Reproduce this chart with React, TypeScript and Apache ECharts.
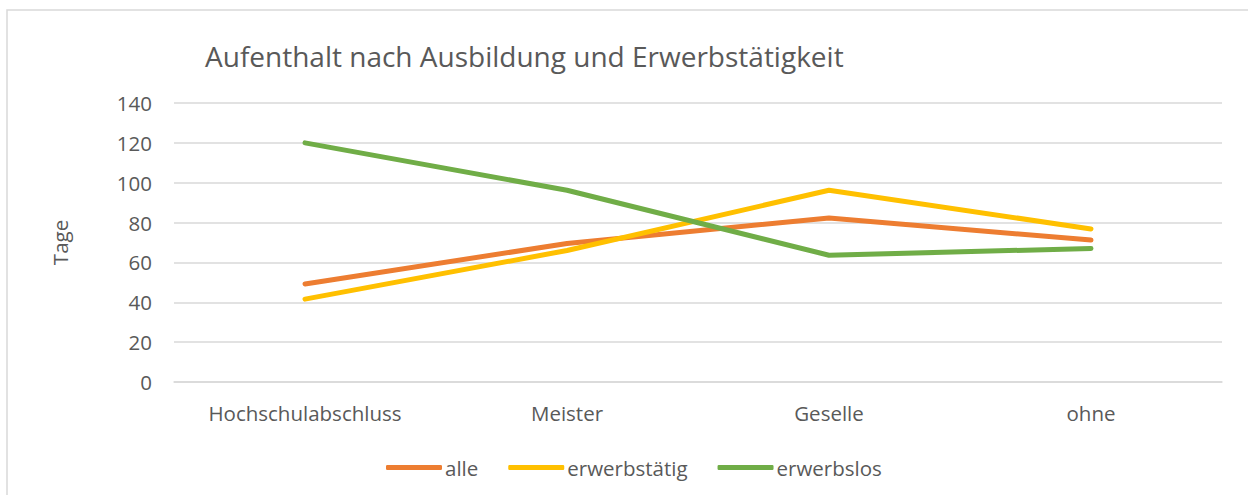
import React, { useEffect, useRef } from "react";
import * as echarts from "echarts";

const categories = ["Hochschulabschluss", "Meister", "Geselle", "ohne"];
const alle = [49.2, 69.5, 82.3, 71.2];
const erwerbstaetig = [41.6, 66.0, 96.2, 76.8];
const erwerbslos = [120, 96.2, 63.6, 67.0];
const seriesNames = ["alle", "erwerbstätig", "erwerbslos"];
const colors = ["#ED7D31", "#FFC000", "#70AD47"];

export default function App() {
  const ref = useRef<HTMLDivElement>(null);
  useEffect(() => {
    const chart = echarts.init(ref.current!, null, { renderer: "svg" });
    const font = "'Open Sans', sans-serif";
    const data = [alle, erwerbstaetig, erwerbslos];
    chart.setOption({
      animation: false,
      backgroundColor: "#ffffff",
      textStyle: { fontFamily: font },
      graphic: [
        {
          type: "rect",
          shape: { x: 7, y: 10, width: 1260, height: 500 },
          style: { fill: "none", stroke: "#d9d9d9", lineWidth: 1.5 },
          silent: true,
        },
      ],
      title: {
        text: "Aufenthalt nach Ausbildung und Erwerbstätigkeit",
        left: 200,
        top: 37,
        textStyle: { fontFamily: font, fontSize: 28, fontWeight: "normal", color: "#595959" },
      },
      legend: {
        bottom: 12,
        left: 381,
        itemWidth: 56,
        itemHeight: 5,
        itemGap: 30,
        icon: "roundRect",
        textStyle: { fontFamily: font, fontSize: 20.5, color: "#595959", padding: [0, 0, 0, -2] },
        data: seriesNames,
      },
      grid: { left: 174, right: 26, top: 103, bottom: 113, containLabel: false },
      xAxis: {
        type: "category",
        data: categories,
        boundaryGap: true,
        axisLine: { show: true, lineStyle: { color: "#d9d9d9", width: 1.5 } },
        axisTick: { show: false },
        axisLabel: { fontFamily: font, fontSize: 20.5, color: "#595959", margin: 20 },
      },
      yAxis: {
        type: "value",
        min: 0,
        max: 140,
        interval: 20,
        name: "Tage",
        nameLocation: "middle",
        nameGap: 104,
        nameRotate: 90,
        nameTextStyle: { fontFamily: font, fontSize: 20.5, color: "#595959" },
        axisLine: { show: false },
        axisTick: { show: false },
        splitLine: { lineStyle: { color: "#d9d9d9", width: 1.5 } },
        axisLabel: { fontFamily: font, fontSize: 20.5, color: "#595959", margin: 22 },
      },
      series: seriesNames.map((name, i) => ({
        name,
        type: "line",
        data: data[i],
        symbol: "none",
        lineStyle: { color: colors[i], width: 5, cap: "round", join: "round" },
        itemStyle: { color: colors[i] },
      })),
    });
    return () => chart.dispose();
  }, []);
  return (
    <div style={{ position: "fixed", left: 0, top: 0, width: 1248, height: 495 }}>
      <div ref={ref} style={{ width: 1248, height: 495 }} />
    </div>
  );
}
